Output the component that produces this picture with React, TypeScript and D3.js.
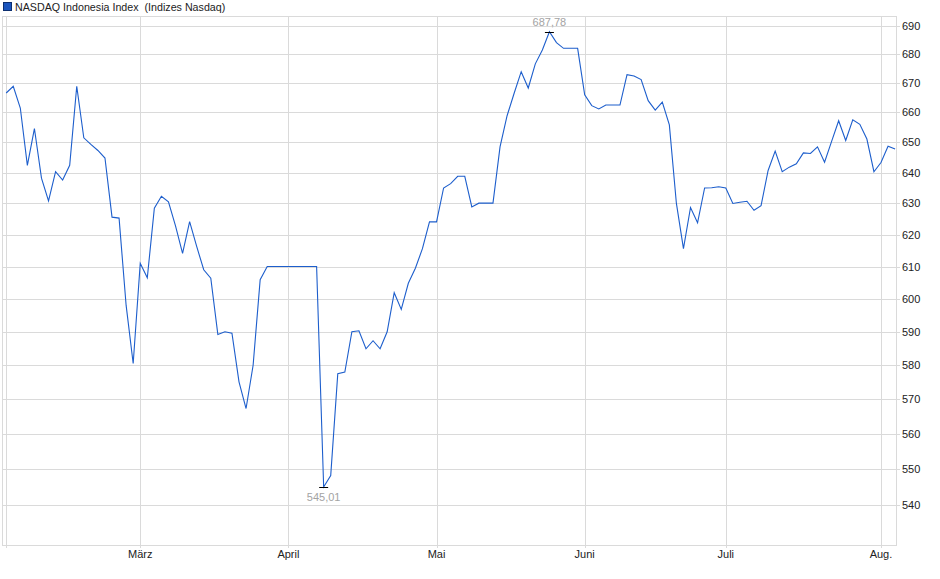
import React, { useEffect, useRef } from "react";
import * as d3 from "d3";

const seriesName = "NASDAQ Indonesia Index";
const seriesGroup = "(Indizes Nasdaq)";

// daily closes, one per trading day (3 Feb – 5 Aug)
const closes: number[] = [
  666.6, 668.9, 661.5, 642.4, 654.6, 638.2, 630.8, 640.3, 637.6, 642.4,
  668.9, 651.5, 649.3, 647.3, 644.8, 625.6, 625.3, 598.0, 580.5, 611.0,
  606.5, 628.5, 632.3, 630.5, 622.8, 614.1, 624.2, 616.3, 609.0, 606.4,
  589.2, 590.0, 589.6, 575.1, 567.3, 580.0, 605.9, 610.0, 610.0, 610.0,
  610.0, 610.0, 610.0, 610.0, 610.0, 545.01, 548.2, 577.5, 578.0, 590.0,
  590.3, 584.9, 587.3, 584.9, 590.0, 601.9, 596.8, 604.8, 609.5, 615.6,
  624.1, 624.1, 635.0, 636.4, 638.8, 638.8, 628.9, 630.1, 630.1, 630.1,
  648.5, 658.9, 666.5, 673.9, 668.3, 676.6, 681.4, 687.78, 684.0, 682.0,
  682.0, 682.0, 666.0, 662.3, 661.2, 662.5, 662.5, 662.5, 672.9, 672.4,
  671.2, 664.0, 660.8, 663.5, 655.8, 630.0, 615.6, 628.7, 623.8, 635.0,
  635.1, 635.4, 635.0, 630.0, 630.4, 630.7, 627.8, 629.3, 640.7, 647.1,
  640.3, 641.8, 642.9, 646.5, 646.3, 648.5, 643.4, 650.3, 657.2, 650.6,
  657.5, 656.0, 651.1, 640.3, 643.3, 648.7, 647.8,
];

// first trading day of each month (index into closes)
const monthStarts = [0, 19, 40, 61, 82, 102, 124];
const monthLabels = ["", "März", "April", "Mai", "Juni", "Juli", "Aug."];

const yTicks = [540, 550, 560, 570, 580, 590, 600, 610, 620, 630, 640, 650, 660, 670, 680, 690];

const deLocale = d3.formatLocale({
  decimal: ",",
  thousands: ".",
  grouping: [3],
  currency: ["", " €"],
});
const fmt = deLocale.format(".2f");

const App: React.FC = () => {
  const svgRef = useRef<SVGSVGElement>(null);

  useEffect(() => {
    if (!svgRef.current) return;
    const width = 940;
    const height = 579;
    const plot = { left: 3, right: 897, top: 16, bottom: 545 };
    const font = "'Liberation Sans', Arial, sans-serif";
    const gridColor = "#dadada";

    const svg = d3.select(svgRef.current);
    svg.selectAll("*").remove();
    svg.attr("width", width).attr("height", height);

    svg.append("rect").attr("width", width).attr("height", height).attr("fill", "#fff");

    const x = d3.scaleLinear().domain([0, closes.length - 1]).range([6.2, 895.1]);
    const y = d3.scaleLog().domain([540, 690]).range([505, 25.5]);
    const crisp = (v: number) => Math.round(v) + 0.5;

    // horizontal grid + y labels
    const yg = svg.append("g");
    yg.selectAll("line")
      .data(yTicks)
      .join("line")
      .attr("x1", plot.left)
      .attr("x2", plot.right + 3)
      .attr("y1", (d) => crisp(y(d)))
      .attr("y2", (d) => crisp(y(d)))
      .attr("stroke", gridColor);
    yg.selectAll("text")
      .data(yTicks)
      .join("text")
      .attr("x", plot.right + 5)
      .attr("y", (d) => y(d) + 4)
      .attr("font-family", font)
      .attr("font-size", 11)
      .attr("fill", "#222")
      .text((d) => String(d));

    // vertical month grid + labels
    const xg = svg.append("g");
    xg.selectAll("line")
      .data(monthStarts)
      .join("line")
      .attr("x1", (d) => crisp(x(d)))
      .attr("x2", (d) => crisp(x(d)))
      .attr("y1", plot.top)
      .attr("y2", plot.bottom + 3)
      .attr("stroke", gridColor);
    xg.selectAll("text")
      .data(monthStarts)
      .join("text")
      .attr("x", (d) => x(d))
      .attr("y", plot.bottom + 13)
      .attr("text-anchor", "middle")
      .attr("font-family", font)
      .attr("font-size", 11)
      .attr("fill", "#222")
      .text((_, i) => monthLabels[i]);

    // frame
    svg
      .append("rect")
      .attr("x", plot.left - 0.5)
      .attr("y", plot.top + 0.5)
      .attr("width", plot.right - plot.left)
      .attr("height", plot.bottom - plot.top)
      .attr("fill", "none")
      .attr("stroke", gridColor);

    // series
    const line = d3
      .line<number>()
      .x((_, i) => x(i))
      .y((d) => y(d));
    svg
      .append("path")
      .datum(closes)
      .attr("fill", "none")
      .attr("stroke", "#1d5ecc")
      .attr("stroke-width", 1.1)
      .attr("d", line);

    // high / low markers
    const hi = d3.maxIndex(closes);
    const lo = d3.minIndex(closes);
    const marks = [
      { i: hi, dy: -6 },
      { i: lo, dy: 14 },
    ];
    marks.forEach((m) => {
      const px = x(m.i);
      const py = y(closes[m.i]);
      svg
        .append("line")
        .attr("x1", px - 4.5)
        .attr("x2", px + 4.5)
        .attr("y1", crisp(py))
        .attr("y2", crisp(py))
        .attr("stroke", "#000");
      svg
        .append("text")
        .attr("x", px)
        .attr("y", py + m.dy)
        .attr("text-anchor", "middle")
        .attr("font-family", font)
        .attr("font-size", 11)
        .attr("fill", "#a3a3a3")
        .text(fmt(closes[m.i]));
    });

    // legend
    svg
      .append("rect")
      .attr("x", 3.5)
      .attr("y", 2.5)
      .attr("width", 8)
      .attr("height", 8)
      .attr("fill", "#1b55bd")
      .attr("stroke", "#0d2f70");
    svg
      .append("text")
      .attr("x", 15)
      .attr("y", 11)
      .attr("font-family", font)
      .attr("font-size", 10.7)
      .attr("fill", "#222")
      .attr("xml:space", "preserve")
      .text(`${seriesName}  ${seriesGroup}`);
  }, []);

  return <svg ref={svgRef} style={{ position: "absolute", left: 0, top: 0, display: "block" }} />;
};

export default App;
